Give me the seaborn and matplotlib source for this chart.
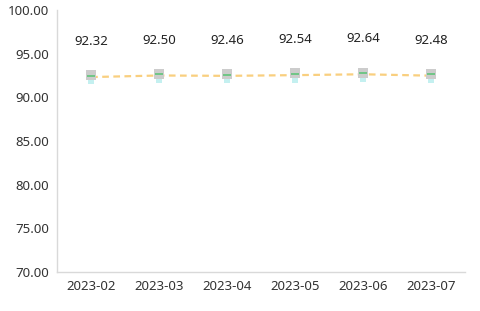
import matplotlib
matplotlib.use("Agg")
import matplotlib.pyplot as plt
import seaborn as sns
import pandas as pd
import numpy as np

months = ["2023-02", "2023-03", "2023-04", "2023-05", "2023-06", "2023-07"]
values = [92.32, 92.50, 92.46, 92.54, 92.64, 92.48]
y_ticks = [70, 75, 80, 85, 90, 95, 100]

sns.set_theme(style="white")
plt.rcParams['font.family'] = ['Noto Sans', 'DejaVu Sans']

df = pd.DataFrame({"month": months, "value": values})
df["pos"] = np.arange(len(months))

fig = plt.figure(figsize=(4.8, 3.11), dpi=100)
ax = fig.add_axes([0.119, 0.125, 0.85, 0.843])

sns.lineplot(data=df, x="pos", y="value", ax=ax, color="#f9cf7f",
             linestyle=(0, (3, 2)), linewidth=1.6, zorder=2)
# icon-like markers
ax.scatter(df["pos"], df["value"] - 0.5, marker="s", s=22, color="#c4f0f0", zorder=3, linewidths=0)
ax.scatter(df["pos"], df["value"] + 0.2, marker="s", s=45, color="#cccccc", zorder=4, linewidths=0)
ax.scatter(df["pos"], df["value"] + 0.15, marker="_", s=40, color="#5fc47a", zorder=5, linewidths=1.2)

for x, v in zip(df["pos"], df["value"]):
    ax.text(x, v + 3.3, f"{v:.2f}", ha="center", va="bottom", fontsize=9.5, color="#222222")

ax.set_xlim(-0.5, len(months) - 0.5)
ax.set_ylim(70, 100)
ax.set_yticks(y_ticks)
ax.set_yticklabels([f"{t:.2f}" for t in y_ticks])
ax.set_xticks(df["pos"])
ax.set_xticklabels(months)
ax.set_xlabel("")
ax.set_ylabel("")
ax.tick_params(axis="both", labelsize=9.5, colors="#333333", length=0, pad=6)
for s in ["top", "right"]:
    ax.spines[s].set_visible(False)
for s in ["left", "bottom"]:
    ax.spines[s].set_color("#d9d9d9")
    ax.spines[s].set_linewidth(1)

fig.savefig("out.png", dpi=100)
